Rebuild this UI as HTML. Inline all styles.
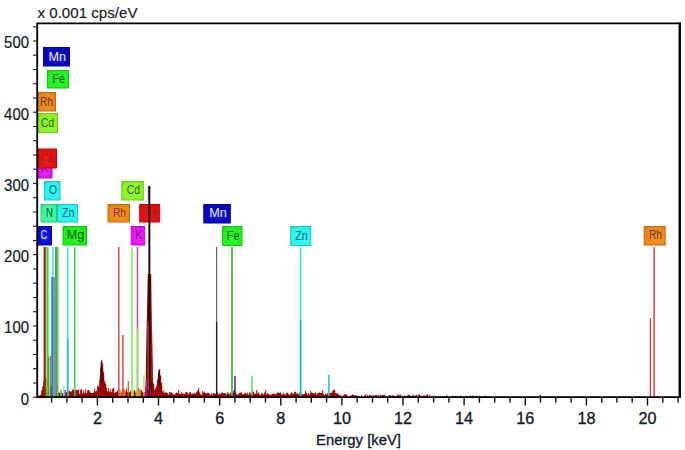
<!DOCTYPE html><html><head><meta charset="utf-8"><style>html,body{margin:0;padding:0;background:#fff;}svg{display:block;}text{font-family:"Liberation Sans",sans-serif;}</style></head><body>
<svg width="685" height="450" viewBox="0 0 685 450">
<rect width="685" height="450" fill="#fff"/>
<defs><radialGradient id="pk" cx="0.5" cy="1" r="0.6"><stop offset="0" stop-color="#ff1010"/><stop offset="0.6" stop-color="#d00000" stop-opacity="0.7"/><stop offset="1" stop-color="#a00000" stop-opacity="0"/></radialGradient><radialGradient id="glow" cx="0.55" cy="0.6" r="0.75"><stop offset="0" stop-color="#fff" stop-opacity="0.12"/><stop offset="0.6" stop-color="#fff" stop-opacity="0"/><stop offset="1" stop-color="#000" stop-opacity="0.12"/></radialGradient><clipPath id="ab"><rect x="38" y="23" width="641" height="373.5"/></clipPath></defs>
<path d="M38.2 397.2 L38.2 395.5 L39.2 395.5 L39.2 395.4 L40.2 395.4 L40.2 394.8 L41.2 394.8 L41.2 390.2 L42.2 390.2 L42.2 386.4 L43.2 386.4 L43.2 380.7 L44.2 380.7 L44.2 384.4 L45.2 384.4 L45.2 388.3 L46.2 388.3 L46.2 389.8 L47.2 389.8 L47.2 389.2 L48.2 389.2 L48.2 392.6 L49.2 392.6 L49.2 388.4 L50.2 388.4 L50.2 383.7 L51.2 383.7 L51.2 385.9 L52.2 385.9 L52.2 389.6 L53.2 389.6 L53.2 393.0 L54.2 393.0 L54.2 388.3 L55.2 388.3 L55.2 388.4 L56.2 388.4 L56.2 389.9 L57.2 389.9 L57.2 390.1 L58.2 390.1 L58.2 392.4 L59.2 392.4 L59.2 393.1 L60.2 393.1 L60.2 391.6 L61.2 391.6 L61.2 393.9 L62.2 393.9 L62.2 393.2 L63.2 393.2 L63.2 393.0 L64.2 393.0 L64.2 394.0 L65.2 394.0 L65.2 391.9 L66.2 391.9 L66.2 392.0 L67.2 392.0 L67.2 390.0 L68.2 390.0 L68.2 391.6 L69.2 391.6 L69.2 391.0 L70.2 391.0 L70.2 391.5 L71.2 391.5 L71.2 391.6 L72.2 391.6 L72.2 389.2 L73.2 389.2 L73.2 389.9 L74.2 389.9 L74.2 392.3 L75.2 392.3 L75.2 389.4 L76.2 389.4 L76.2 390.3 L77.2 390.3 L77.2 389.9 L78.2 389.9 L78.2 389.4 L79.2 389.4 L79.2 393.7 L80.2 393.7 L80.2 389.6 L81.2 389.6 L81.2 389.3 L82.2 389.3 L82.2 393.4 L83.2 393.4 L83.2 390.2 L84.2 390.2 L84.2 393.3 L85.2 393.3 L85.2 389.4 L86.2 389.4 L86.2 393.2 L87.2 393.2 L87.2 390.2 L88.2 390.2 L88.2 390.1 L89.2 390.1 L89.2 391.2 L90.2 391.2 L90.2 392.8 L91.2 392.8 L91.2 393.1 L92.2 393.1 L92.2 393.1 L93.2 393.1 L93.2 392.5 L94.2 392.5 L94.2 388.8 L95.2 388.8 L95.2 391.2 L96.2 391.2 L96.2 390.7 L97.2 390.7 L97.2 385.4 L98.2 385.4 L98.2 386.4 L99.2 386.4 L99.2 380.2 L100.2 380.2 L100.2 368.4 L101.2 368.4 L101.2 359.9 L102.2 359.9 L102.2 364.4 L103.2 364.4 L103.2 372.2 L104.2 372.2 L104.2 381.0 L105.2 381.0 L105.2 383.7 L106.2 383.7 L106.2 388.1 L107.2 388.1 L107.2 391.2 L108.2 391.2 L108.2 388.1 L109.2 388.1 L109.2 391.7 L110.2 391.7 L110.2 389.4 L111.2 389.4 L111.2 392.2 L112.2 392.2 L112.2 388.8 L113.2 388.8 L113.2 388.1 L114.2 388.1 L114.2 393.0 L115.2 393.0 L115.2 392.0 L116.2 392.0 L116.2 391.9 L117.2 391.9 L117.2 390.2 L118.2 390.2 L118.2 392.3 L119.2 392.3 L119.2 389.6 L120.2 389.6 L120.2 392.9 L121.2 392.9 L121.2 392.1 L122.2 392.1 L122.2 390.4 L123.2 390.4 L123.2 388.9 L124.2 388.9 L124.2 390.1 L125.2 390.1 L125.2 391.8 L126.2 391.8 L126.2 388.6 L127.2 388.6 L127.2 392.2 L128.2 392.2 L128.2 393.1 L129.2 393.1 L129.2 391.9 L130.2 391.9 L130.2 391.0 L131.2 391.0 L131.2 392.9 L132.2 392.9 L132.2 392.3 L133.2 392.3 L133.2 391.4 L134.2 391.4 L134.2 390.3 L135.2 390.3 L135.2 392.5 L136.2 392.5 L136.2 391.4 L137.2 391.4 L137.2 388.7 L138.2 388.7 L138.2 388.3 L139.2 388.3 L139.2 389.9 L140.2 389.9 L140.2 389.7 L141.2 389.7 L141.2 390.2 L142.2 390.2 L142.2 392.3 L143.2 392.3 L143.2 392.6 L144.2 392.6 L144.2 391.9 L145.2 391.9 L145.2 386.1 L146.2 386.1 L146.2 384.1 L147.2 384.1 L147.2 369.8 L148.2 369.8 L148.2 328.2 L149.2 328.2 L149.2 278.7 L150.2 278.7 L150.2 312.4 L151.2 312.4 L151.2 363.3 L152.2 363.3 L152.2 383.0 L153.2 383.0 L153.2 383.5 L154.2 383.5 L154.2 389.7 L155.2 389.7 L155.2 387.7 L156.2 387.7 L156.2 385.2 L157.2 385.2 L157.2 379.3 L158.2 379.3 L158.2 371.8 L159.2 371.8 L159.2 369.0 L160.2 369.0 L160.2 375.4 L161.2 375.4 L161.2 382.7 L162.2 382.7 L162.2 391.5 L163.2 391.5 L163.2 391.1 L164.2 391.1 L164.2 393.1 L165.2 393.1 L165.2 392.0 L166.2 392.0 L166.2 392.8 L167.2 392.8 L167.2 392.9 L168.2 392.9 L168.2 394.5 L169.2 394.5 L169.2 391.7 L170.2 391.7 L170.2 392.5 L171.2 392.5 L171.2 392.5 L172.2 392.5 L172.2 393.4 L173.2 393.4 L173.2 394.4 L174.2 394.4 L174.2 394.6 L175.2 394.6 L175.2 393.3 L176.2 393.3 L176.2 392.6 L177.2 392.6 L177.2 392.9 L178.2 392.9 L178.2 389.9 L179.2 389.9 L179.2 393.8 L180.2 393.8 L180.2 394.1 L181.2 394.1 L181.2 392.0 L182.2 392.0 L182.2 393.4 L183.2 393.4 L183.2 393.7 L184.2 393.7 L184.2 394.1 L185.2 394.1 L185.2 392.3 L186.2 392.3 L186.2 392.1 L187.2 392.1 L187.2 393.0 L188.2 393.0 L188.2 394.3 L189.2 394.3 L189.2 392.2 L190.2 392.2 L190.2 392.6 L191.2 392.6 L191.2 393.9 L192.2 393.9 L192.2 393.3 L193.2 393.3 L193.2 394.1 L194.2 394.1 L194.2 392.8 L195.2 392.8 L195.2 393.8 L196.2 393.8 L196.2 391.8 L197.2 391.8 L197.2 390.5 L198.2 390.5 L198.2 388.1 L199.2 388.1 L199.2 392.6 L200.2 392.6 L200.2 394.3 L201.2 394.3 L201.2 395.1 L202.2 395.1 L202.2 390.8 L203.2 390.8 L203.2 392.7 L204.2 392.7 L204.2 391.8 L205.2 391.8 L205.2 393.3 L206.2 393.3 L206.2 393.3 L207.2 393.3 L207.2 392.8 L208.2 392.8 L208.2 393.1 L209.2 393.1 L209.2 393.8 L210.2 393.8 L210.2 395.2 L211.2 395.2 L211.2 393.1 L212.2 393.1 L212.2 394.4 L213.2 394.4 L213.2 393.1 L214.2 393.1 L214.2 393.4 L215.2 393.4 L215.2 394.0 L216.2 394.0 L216.2 392.5 L217.2 392.5 L217.2 392.4 L218.2 392.4 L218.2 394.8 L219.2 394.8 L219.2 393.3 L220.2 393.3 L220.2 394.1 L221.2 394.1 L221.2 392.6 L222.2 392.6 L222.2 392.4 L223.2 392.4 L223.2 393.2 L224.2 393.2 L224.2 393.0 L225.2 393.0 L225.2 393.3 L226.2 393.3 L226.2 394.6 L227.2 394.6 L227.2 392.3 L228.2 392.3 L228.2 393.6 L229.2 393.6 L229.2 394.2 L230.2 394.2 L230.2 392.6 L231.2 392.6 L231.2 395.0 L232.2 395.0 L232.2 393.5 L233.2 393.5 L233.2 390.7 L234.2 390.7 L234.2 389.8 L235.2 389.8 L235.2 392.8 L236.2 392.8 L236.2 394.2 L237.2 394.2 L237.2 394.8 L238.2 394.8 L238.2 393.7 L239.2 393.7 L239.2 392.7 L240.2 392.7 L240.2 392.4 L241.2 392.4 L241.2 392.4 L242.2 392.4 L242.2 394.5 L243.2 394.5 L243.2 394.3 L244.2 394.3 L244.2 393.3 L245.2 393.3 L245.2 392.7 L246.2 392.7 L246.2 394.3 L247.2 394.3 L247.2 392.7 L248.2 392.7 L248.2 394.6 L249.2 394.6 L249.2 392.3 L250.2 392.3 L250.2 393.5 L251.2 393.5 L251.2 393.6 L252.2 393.6 L252.2 390.4 L253.2 390.4 L253.2 392.3 L254.2 392.3 L254.2 394.0 L255.2 394.0 L255.2 393.5 L256.2 393.5 L256.2 390.1 L257.2 390.1 L257.2 393.6 L258.2 393.6 L258.2 392.3 L259.2 392.3 L259.2 394.4 L260.2 394.4 L260.2 394.8 L261.2 394.8 L261.2 392.8 L262.2 392.8 L262.2 393.8 L263.2 393.8 L263.2 394.6 L264.2 394.6 L264.2 392.4 L265.2 392.4 L265.2 389.9 L266.2 389.9 L266.2 394.6 L267.2 394.6 L267.2 393.1 L268.2 393.1 L268.2 394.1 L269.2 394.1 L269.2 394.9 L270.2 394.9 L270.2 394.8 L271.2 394.8 L271.2 394.4 L272.2 394.4 L272.2 393.6 L273.2 393.6 L273.2 394.1 L274.2 394.1 L274.2 393.6 L275.2 393.6 L275.2 394.6 L276.2 394.6 L276.2 393.3 L277.2 393.3 L277.2 392.6 L278.2 392.6 L278.2 392.6 L279.2 392.6 L279.2 393.0 L280.2 393.0 L280.2 392.5 L281.2 392.5 L281.2 394.3 L282.2 394.3 L282.2 394.5 L283.2 394.5 L283.2 392.5 L284.2 392.5 L284.2 394.5 L285.2 394.5 L285.2 394.4 L286.2 394.4 L286.2 392.7 L287.2 392.7 L287.2 392.8 L288.2 392.8 L288.2 394.0 L289.2 394.0 L289.2 395.1 L290.2 395.1 L290.2 393.2 L291.2 393.2 L291.2 392.3 L292.2 392.3 L292.2 393.7 L293.2 393.7 L293.2 393.7 L294.2 393.7 L294.2 391.6 L295.2 391.6 L295.2 391.9 L296.2 391.9 L296.2 393.5 L297.2 393.5 L297.2 393.5 L298.2 393.5 L298.2 394.6 L299.2 394.6 L299.2 392.7 L300.2 392.7 L300.2 392.4 L301.2 392.4 L301.2 395.0 L302.2 395.0 L302.2 393.8 L303.2 393.8 L303.2 394.2 L304.2 394.2 L304.2 393.7 L305.2 393.7 L305.2 390.4 L306.2 390.4 L306.2 393.1 L307.2 393.1 L307.2 394.7 L308.2 394.7 L308.2 393.0 L309.2 393.0 L309.2 394.6 L310.2 394.6 L310.2 390.7 L311.2 390.7 L311.2 392.5 L312.2 392.5 L312.2 393.1 L313.2 393.1 L313.2 393.3 L314.2 393.3 L314.2 393.4 L315.2 393.4 L315.2 392.3 L316.2 392.3 L316.2 394.4 L317.2 394.4 L317.2 393.0 L318.2 393.0 L318.2 392.8 L319.2 392.8 L319.2 392.5 L320.2 392.5 L320.2 393.1 L321.2 393.1 L321.2 392.9 L322.2 392.9 L322.2 390.0 L323.2 390.0 L323.2 394.2 L324.2 394.2 L324.2 395.2 L325.2 395.2 L325.2 393.3 L326.2 393.3 L326.2 394.5 L327.2 394.5 L327.2 393.2 L328.2 393.2 L328.2 393.2 L329.2 393.2 L329.2 393.5 L330.2 393.5 L330.2 392.8 L331.2 392.8 L331.2 392.7 L332.2 392.7 L332.2 391.0 L333.2 391.0 L333.2 389.8 L334.2 389.8 L334.2 389.7 L335.2 389.7 L335.2 393.0 L336.2 393.0 L336.2 393.2 L337.2 393.2 L337.2 393.5 L338.2 393.5 L338.2 394.7 L339.2 394.7 L339.2 394.4 L340.2 394.4 L340.2 396.3 L341.2 396.3 L341.2 395.6 L342.2 395.6 L342.2 397.2 L343.2 397.2 L343.2 395.2 L344.2 395.2 L344.2 394.3 L345.2 394.3 L345.2 394.2 L346.2 394.2 L346.2 394.6 L347.2 394.6 L347.2 397.2 L348.2 397.2 L348.2 397.2 L349.2 397.2 L349.2 396.0 L350.2 396.0 L350.2 396.0 L351.2 396.0 L351.2 395.1 L352.2 395.1 L352.2 394.3 L353.2 394.3 L353.2 395.2 L354.2 395.2 L354.2 395.6 L355.2 395.6 L355.2 395.0 L356.2 395.0 L356.2 395.8 L357.2 395.8 L357.2 395.7 L358.2 395.7 L358.2 395.9 L359.2 395.9 L359.2 397.2 L360.2 397.2 L360.2 397.2 L361.2 397.2 L361.2 394.8 L362.2 394.8 L362.2 397.2 L363.2 397.2 L363.2 397.2 L364.2 397.2 L364.2 395.5 L365.2 395.5 L365.2 394.3 L366.2 394.3 L366.2 397.2 L367.2 397.2 L367.2 394.8 L368.2 394.8 L368.2 397.2 L369.2 397.2 L369.2 395.1 L370.2 395.1 L370.2 395.0 L371.2 395.0 L371.2 396.0 L372.2 396.0 L372.2 395.2 L373.2 395.2 L373.2 395.4 L374.2 395.4 L374.2 395.4 L375.2 395.4 L375.2 395.1 L376.2 395.1 L376.2 394.7 L377.2 394.7 L377.2 397.2 L378.2 397.2 L378.2 394.8 L379.2 394.8 L379.2 397.2 L380.2 397.2 L380.2 394.7 L381.2 394.7 L381.2 395.6 L382.2 395.6 L382.2 394.9 L383.2 394.9 L383.2 395.1 L384.2 395.1 L384.2 394.7 L385.2 394.7 L385.2 397.2 L386.2 397.2 L386.2 397.2 L387.2 397.2 L387.2 396.3 L388.2 396.3 L388.2 395.8 L389.2 395.8 L389.2 395.0 L390.2 395.0 L390.2 395.2 L391.2 395.2 L391.2 396.2 L392.2 396.2 L392.2 395.2 L393.2 395.2 L393.2 395.6 L394.2 395.6 L394.2 395.9 L395.2 395.9 L395.2 397.2 L396.2 397.2 L396.2 396.2 L397.2 396.2 L397.2 394.6 L398.2 394.6 L398.2 394.7 L399.2 394.7 L399.2 395.5 L400.2 395.5 L400.2 394.6 L401.2 394.6 L401.2 397.2 L402.2 397.2 L402.2 395.7 L403.2 395.7 L403.2 397.2 L404.2 397.2 L404.2 395.5 L405.2 395.5 L405.2 397.2 L406.2 397.2 L406.2 396.2 L407.2 396.2 L407.2 395.2 L408.2 395.2 L408.2 394.9 L409.2 394.9 L409.2 394.7 L410.2 394.7 L410.2 395.9 L411.2 395.9 L411.2 396.2 L412.2 396.2 L412.2 394.8 L413.2 394.8 L413.2 395.8 L414.2 395.8 L414.2 395.6 L415.2 395.6 L415.2 395.6 L416.2 395.6 L416.2 394.8 L417.2 394.8 L417.2 397.2 L418.2 397.2 L418.2 394.4 L419.2 394.4 L419.2 394.6 L420.2 394.6 L420.2 395.7 L421.2 395.7 L421.2 397.2 L422.2 397.2 L422.2 395.9 L423.2 395.9 L423.2 395.6 L424.2 395.6 L424.2 395.5 L425.2 395.5 L425.2 396.0 L426.2 396.0 L426.2 394.6 L427.2 394.6 L427.2 394.6 L428.2 394.6 L428.2 397.2 L429.2 397.2 L429.2 394.5 L430.2 394.5 L430.2 396.7 L431.2 396.7 L431.2 395.9 L432.2 395.9 L432.2 397.2 L433.2 397.2 L433.2 395.5 L434.2 395.5 L434.2 397.2 L435.2 397.2 L435.2 396.6 L436.2 396.6 L436.2 397.2 L437.2 397.2 L437.2 397.2 L438.2 397.2 L438.2 397.2 L439.2 397.2 L439.2 395.7 L440.2 395.7 L440.2 397.2 L441.2 397.2 L441.2 397.2 L442.2 397.2 L442.2 396.1 L443.2 396.1 L443.2 397.2 L444.2 397.2 L444.2 396.0 L445.2 396.0 L445.2 397.2 L446.2 397.2 L446.2 395.3 L447.2 395.3 L447.2 397.2 L448.2 397.2 L448.2 397.2 L449.2 397.2 L449.2 397.2 L450.2 397.2 L450.2 397.2 L451.2 397.2 L451.2 397.2 L452.2 397.2 L452.2 395.5 L453.2 395.5 L453.2 396.1 L454.2 396.1 L454.2 397.2 L455.2 397.2 L455.2 396.1 L456.2 396.1 L456.2 396.4 L457.2 396.4 L457.2 397.2 L458.2 397.2 L458.2 396.6 L459.2 396.6 L459.2 397.2 L460.2 397.2 L460.2 395.5 L461.2 395.5 L461.2 396.6 L462.2 396.6 L462.2 397.2 L463.2 397.2 L463.2 396.6 L464.2 396.6 L464.2 396.4 L465.2 396.4 L465.2 397.2 L466.2 397.2 L466.2 395.8 L467.2 395.8 L467.2 396.4 L468.2 396.4 L468.2 397.2 L469.2 397.2 L469.2 396.2 L470.2 396.2 L470.2 395.5 L471.2 395.5 L471.2 397.2 L472.2 397.2 L472.2 395.3 L473.2 395.3 L473.2 397.2 L474.2 397.2 L474.2 396.0 L475.2 396.0 L475.2 397.2 L476.2 397.2 L476.2 395.5 L477.2 395.5 L477.2 395.9 L478.2 395.9 L478.2 397.2 L479.2 397.2 L479.2 395.7 L480.2 395.7 L480.2 396.7 L481.2 396.7 L481.2 397.2 L482.2 397.2 L482.2 397.2 L483.2 397.2 L483.2 396.5 L484.2 396.5 L484.2 396.2 L485.2 396.2 L485.2 395.4 L486.2 395.4 L486.2 397.2 Z" fill="#9c0000"/>
<path d="M100.6 362 L102.6 362 L104 382 L99.5 382 Z" fill="#4a0000" opacity="0.7"/>
<path d="M158.3 370 L159.7 370 L160.5 385 L157.5 385 Z" fill="#300000" opacity="0.7"/>
<g clip-path="url(#ab)"><ellipse cx="101.6" cy="397" rx="6" ry="10" fill="url(#pk)"/><ellipse cx="149.5" cy="397" rx="5" ry="8" fill="url(#pk)"/><ellipse cx="159" cy="397" rx="4" ry="6" fill="url(#pk)"/></g>
<rect x="539.5" y="395" width="1.5" height="2" fill="#b00000"/>
<path d="M147.8 274 L151.2 274 L151.8 330 L152.6 360 L153 392 L145.6 392 L146 360 L146.6 330 Z" fill="#800000"/>
<rect x="151.1" y="332" width="1.2" height="50" fill="#b01818" opacity="0.8"/>
<rect x="44.5" y="378" width="2.5" height="18.5" fill="#f07010" opacity="0.85"/>
<rect x="119" y="390" width="2.5" height="6.5" fill="#f0a030" opacity="0.85"/>
<rect x="122" y="390" width="3.5" height="6.5" fill="#e09020" opacity="0.85"/>
<rect x="131" y="390" width="3" height="6.5" fill="#e8c020" opacity="0.85"/>
<rect x="135.5" y="390" width="5.5" height="6.5" fill="#f0a020" opacity="0.85"/>
<rect x="60" y="390" width="2" height="6.5" fill="#70c040" opacity="0.85"/>
<rect x="64" y="390" width="2" height="6.5" fill="#a04080" opacity="0.85"/>
<rect x="148.6" y="389" width="1.6" height="7" fill="#fff0c0"/>
<rect x="43.60" y="247" width="2.2" height="150.2" fill="#8c2a14"/>
<rect x="46.40" y="247" width="2.2" height="150.2" fill="#40d840"/>
<rect x="47.80" y="357" width="1.2" height="40.2" fill="#30b030"/>
<rect x="49.20" y="290" width="1.2" height="107.2" fill="#d8f8d8"/>
<rect x="49.65" y="356" width="1.3" height="41.2" fill="#d05050"/>
<rect x="51.90" y="247" width="2" height="150.2" fill="#60e8f0"/>
<rect x="51.30" y="277" width="2.2" height="120.2" fill="#208898"/>
<rect x="55.10" y="247" width="1.8" height="150.2" fill="#6a7458"/>
<rect x="54.00" y="277" width="2" height="120.2" fill="#8888c0"/>
<rect x="56.80" y="247" width="1.8" height="150.2" fill="#50d850"/>
<rect x="63.15" y="386" width="1.3" height="11.2" fill="#80e8f0"/>
<rect x="66.90" y="247" width="1.6" height="150.2" fill="#50dde8"/>
<rect x="66.90" y="338" width="1.6" height="59.2" fill="#28b8c8"/>
<rect x="74.05" y="247" width="1.5" height="150.2" fill="#48d048"/>
<rect x="118.05" y="247" width="1.5" height="150.2" fill="#d05050"/>
<rect x="122.15" y="335" width="1.5" height="62.2" fill="#d05050"/>
<rect x="127.70" y="381" width="1.2" height="16.2" fill="#d05050"/>
<rect x="131.35" y="247" width="1.5" height="150.2" fill="#80e850"/>
<rect x="136.75" y="247" width="1.5" height="150.2" fill="#c050c8"/>
<rect x="136.75" y="329" width="1.5" height="68.2" fill="#80e850"/>
<rect x="143.40" y="375" width="1.2" height="22.2" fill="#a0e850"/>
<rect x="145.70" y="379" width="1.2" height="18.2" fill="#c020c0"/>
<rect x="216.00" y="247" width="1.2" height="150.2" fill="#686868"/>
<rect x="215.95" y="322" width="1.3" height="75.2" fill="#202020"/>
<rect x="231.20" y="247" width="1.6" height="150.2" fill="#28b828"/>
<rect x="234.30" y="376" width="1.4" height="21.2" fill="#282878"/>
<rect x="251.35" y="376" width="1.3" height="21.2" fill="#50d050"/>
<rect x="299.80" y="247" width="1.6" height="150.2" fill="#50e0e8"/>
<rect x="299.80" y="320" width="1.6" height="77.2" fill="#20b8c8"/>
<rect x="328.10" y="375" width="1.6" height="22.2" fill="#30c0d0"/>
<rect x="649.75" y="318" width="1.3" height="79.2" fill="#d04848"/>
<rect x="653.35" y="247" width="1.5" height="150.2" fill="#d04848"/>
<rect x="43.5" y="47.5" width="26.0" height="18.5" fill="#0404c0" stroke="#030399" stroke-width="1"/>
<rect x="44.0" y="48.0" width="25.0" height="17.5" fill="url(#glow)"/>
<text x="57.3" y="60.5" font-size="12.5" fill="#eef" text-anchor="middle" textLength="17.5" lengthAdjust="spacingAndGlyphs">Mn</text>
<rect x="47.5" y="70.5" width="21.0" height="17.5" fill="#1cf41c" stroke="#16c316" stroke-width="1"/>
<rect x="48.0" y="71.0" width="20.0" height="16.5" fill="url(#glow)"/>
<text x="58.8" y="83.0" font-size="12.5" fill="#062a06" text-anchor="middle" textLength="12.5" lengthAdjust="spacingAndGlyphs" opacity="0.8">Fe</text>
<rect x="38.5" y="92.5" width="17.0" height="18.5" fill="#f28614" stroke="#c16b10" stroke-width="1"/>
<rect x="39.0" y="93.0" width="16.0" height="17.5" fill="url(#glow)"/>
<text x="46.4" y="105.5" font-size="12.5" fill="#4a2800" text-anchor="middle" textLength="13" lengthAdjust="spacingAndGlyphs" opacity="0.8">Rh</text>
<rect x="38.5" y="113.5" width="19.0" height="19.0" fill="#88f820" stroke="#6cc619" stroke-width="1"/>
<rect x="39.0" y="114.0" width="18.0" height="18.0" fill="url(#glow)"/>
<text x="47.4" y="126.7" font-size="12.5" fill="#1e3800" text-anchor="middle" textLength="13.5" lengthAdjust="spacingAndGlyphs" opacity="0.8">Cd</text>
<rect x="38.5" y="158.5" width="13.5" height="19.5" fill="#ec10f4" stroke="#bc0cc3" stroke-width="1"/>
<rect x="39.0" y="159.0" width="12.5" height="18.5" fill="url(#glow)"/>
<text x="44.6" y="171.9" font-size="12.5" fill="#600070" text-anchor="middle" textLength="7" lengthAdjust="spacingAndGlyphs" opacity="0.8">K</text>
<rect x="38.5" y="149.0" width="18.0" height="19.0" fill="#e40c0c" stroke="#b60909" stroke-width="1"/>
<rect x="39.0" y="149.5" width="17.0" height="18.0" fill="url(#glow)"/>
<text x="46.9" y="162.2" font-size="12.5" fill="#ff5060" text-anchor="middle" textLength="13.5" lengthAdjust="spacingAndGlyphs" opacity="0.75" stroke="#9a0000" stroke-width="0.6">Ca</text>
<rect x="44.5" y="181.5" width="15.5" height="18.5" fill="#24f8f4" stroke="#1cc6c3" stroke-width="1"/>
<rect x="45.0" y="182.0" width="14.5" height="17.5" fill="url(#glow)"/>
<text x="53.0" y="194.4" font-size="12.5" fill="#004040" text-anchor="middle" textLength="8" lengthAdjust="spacingAndGlyphs" opacity="0.8">O</text>
<rect x="41.0" y="204.5" width="15.5" height="17.5" fill="#38f89c" stroke="#2cc67c" stroke-width="1"/>
<rect x="41.5" y="205.0" width="14.5" height="16.5" fill="url(#glow)"/>
<text x="49.5" y="216.9" font-size="12.5" fill="#002a10" text-anchor="middle" textLength="7" lengthAdjust="spacingAndGlyphs" opacity="0.8">N</text>
<rect x="57.5" y="204.5" width="20.0" height="17.5" fill="#24f8f4" stroke="#1cc6c3" stroke-width="1"/>
<rect x="58.0" y="205.0" width="19.0" height="16.5" fill="url(#glow)"/>
<text x="68.3" y="216.9" font-size="12.5" fill="#004040" text-anchor="middle" textLength="12.5" lengthAdjust="spacingAndGlyphs" opacity="0.8">Zn</text>
<rect x="37.5" y="226.5" width="14.0" height="18.5" fill="#0606d8" stroke="#0404ac" stroke-width="1"/>
<rect x="38.0" y="227.0" width="13.0" height="17.5" fill="url(#glow)"/>
<text x="43.9" y="239.4" font-size="12.5" fill="#eef" text-anchor="middle" textLength="6.8" lengthAdjust="spacingAndGlyphs">C</text>
<rect x="63.0" y="226.5" width="23.5" height="18.5" fill="#18f218" stroke="#13c113" stroke-width="1"/>
<rect x="63.5" y="227.0" width="22.5" height="17.5" fill="url(#glow)"/>
<text x="75.5" y="239.4" font-size="12.5" fill="#062a06" text-anchor="middle" textLength="17.5" lengthAdjust="spacingAndGlyphs" opacity="0.8">Mg</text>
<rect x="121.8" y="181.5" width="21.5" height="18.5" fill="#88f820" stroke="#6cc619" stroke-width="1"/>
<rect x="122.3" y="182.0" width="20.5" height="17.5" fill="url(#glow)"/>
<text x="133.4" y="194.4" font-size="12.5" fill="#1e3800" text-anchor="middle" textLength="13.5" lengthAdjust="spacingAndGlyphs" opacity="0.8">Cd</text>
<rect x="108.0" y="204.5" width="21.5" height="17.5" fill="#f28614" stroke="#c16b10" stroke-width="1"/>
<rect x="108.5" y="205.0" width="20.5" height="16.5" fill="url(#glow)"/>
<text x="119.5" y="216.9" font-size="12.5" fill="#4a2800" text-anchor="middle" textLength="13" lengthAdjust="spacingAndGlyphs" opacity="0.8">Rh</text>
<rect x="139.7" y="204.5" width="20.0" height="17.5" fill="#e40c0c" stroke="#b60909" stroke-width="1"/>
<rect x="140.2" y="205.0" width="19.0" height="16.5" fill="url(#glow)"/>
<text x="150.5" y="216.9" font-size="12.5" fill="#ff5060" text-anchor="middle" textLength="13.5" lengthAdjust="spacingAndGlyphs" opacity="0.75" stroke="#9a0000" stroke-width="0.6">Ca</text>
<rect x="131.2" y="226.5" width="13.5" height="18.5" fill="#ec10f4" stroke="#bc0cc3" stroke-width="1"/>
<rect x="131.7" y="227.0" width="12.5" height="17.5" fill="url(#glow)"/>
<text x="138.8" y="239.4" font-size="12.5" fill="#600070" text-anchor="middle" textLength="7" lengthAdjust="spacingAndGlyphs" opacity="0.8">K</text>
<rect x="203.8" y="204.5" width="26.5" height="18.5" fill="#0404c0" stroke="#030399" stroke-width="1"/>
<rect x="204.3" y="205.0" width="25.5" height="17.5" fill="url(#glow)"/>
<text x="217.9" y="217.4" font-size="12.5" fill="#eef" text-anchor="middle" textLength="17.5" lengthAdjust="spacingAndGlyphs">Mn</text>
<rect x="222.5" y="226.5" width="19.5" height="19.0" fill="#1cf41c" stroke="#16c316" stroke-width="1"/>
<rect x="223.0" y="227.0" width="18.5" height="18.0" fill="url(#glow)"/>
<text x="233.1" y="239.7" font-size="12.5" fill="#062a06" text-anchor="middle" textLength="12.5" lengthAdjust="spacingAndGlyphs" opacity="0.8">Fe</text>
<rect x="290.7" y="226.5" width="20.0" height="19.0" fill="#24f8f4" stroke="#1cc6c3" stroke-width="1"/>
<rect x="291.2" y="227.0" width="19.0" height="18.0" fill="url(#glow)"/>
<text x="301.5" y="239.7" font-size="12.5" fill="#004040" text-anchor="middle" textLength="12.5" lengthAdjust="spacingAndGlyphs" opacity="0.8">Zn</text>
<rect x="644.2" y="226.5" width="21.0" height="18.5" fill="#f28614" stroke="#c16b10" stroke-width="1"/>
<rect x="644.7" y="227.0" width="20.0" height="17.5" fill="url(#glow)"/>
<text x="655.5" y="239.4" font-size="12.5" fill="#4a2800" text-anchor="middle" textLength="13" lengthAdjust="spacingAndGlyphs" opacity="0.8">Rh</text>
<rect x="148.4" y="186" width="1.9" height="211.2" fill="#1a0000"/>
<rect x="147.6" y="322" width="1.1" height="68" fill="#c04848"/>
<rect x="147.8" y="186" width="0.8" height="14" fill="#303060"/>
<path d="M37.2 23.3 V397.2 H679.8 V23.3 Z" fill="none" stroke="#000" stroke-width="1.8"/>
<line x1="679.8" y1="22.4" x2="679.8" y2="398" stroke="#000" stroke-width="2.3"/>
<line x1="33" y1="397.2" x2="37.2" y2="397.2" stroke="#222" stroke-width="1.15"/>
<line x1="33" y1="383.0" x2="37.2" y2="383.0" stroke="#222" stroke-width="1.15"/>
<line x1="33" y1="368.7" x2="37.2" y2="368.7" stroke="#222" stroke-width="1.15"/>
<line x1="33" y1="354.5" x2="37.2" y2="354.5" stroke="#222" stroke-width="1.15"/>
<line x1="33" y1="340.2" x2="37.2" y2="340.2" stroke="#222" stroke-width="1.15"/>
<line x1="33" y1="326.0" x2="37.2" y2="326.0" stroke="#222" stroke-width="1.15"/>
<line x1="33" y1="311.7" x2="37.2" y2="311.7" stroke="#222" stroke-width="1.15"/>
<line x1="33" y1="297.5" x2="37.2" y2="297.5" stroke="#222" stroke-width="1.15"/>
<line x1="33" y1="283.2" x2="37.2" y2="283.2" stroke="#222" stroke-width="1.15"/>
<line x1="33" y1="269.0" x2="37.2" y2="269.0" stroke="#222" stroke-width="1.15"/>
<line x1="33" y1="254.7" x2="37.2" y2="254.7" stroke="#222" stroke-width="1.15"/>
<line x1="33" y1="240.5" x2="37.2" y2="240.5" stroke="#222" stroke-width="1.15"/>
<line x1="33" y1="226.2" x2="37.2" y2="226.2" stroke="#222" stroke-width="1.15"/>
<line x1="33" y1="212.0" x2="37.2" y2="212.0" stroke="#222" stroke-width="1.15"/>
<line x1="33" y1="197.7" x2="37.2" y2="197.7" stroke="#222" stroke-width="1.15"/>
<line x1="33" y1="183.5" x2="37.2" y2="183.5" stroke="#222" stroke-width="1.15"/>
<line x1="33" y1="169.2" x2="37.2" y2="169.2" stroke="#222" stroke-width="1.15"/>
<line x1="33" y1="155.0" x2="37.2" y2="155.0" stroke="#222" stroke-width="1.15"/>
<line x1="33" y1="140.7" x2="37.2" y2="140.7" stroke="#222" stroke-width="1.15"/>
<line x1="33" y1="126.5" x2="37.2" y2="126.5" stroke="#222" stroke-width="1.15"/>
<line x1="33" y1="112.2" x2="37.2" y2="112.2" stroke="#222" stroke-width="1.15"/>
<line x1="33" y1="98.0" x2="37.2" y2="98.0" stroke="#222" stroke-width="1.15"/>
<line x1="33" y1="83.7" x2="37.2" y2="83.7" stroke="#222" stroke-width="1.15"/>
<line x1="33" y1="69.5" x2="37.2" y2="69.5" stroke="#222" stroke-width="1.15"/>
<line x1="33" y1="55.2" x2="37.2" y2="55.2" stroke="#222" stroke-width="1.15"/>
<line x1="33" y1="41.0" x2="37.2" y2="41.0" stroke="#222" stroke-width="1.15"/>
<line x1="33" y1="26.8" x2="37.2" y2="26.8" stroke="#222" stroke-width="1.15"/>
<text x="29" y="404.5" font-size="16.5" fill="#101828" stroke="#101828" stroke-width="0.2" text-anchor="end" textLength="8.3" lengthAdjust="spacingAndGlyphs">0</text>
<text x="29" y="333.3" font-size="16.5" fill="#101828" stroke="#101828" stroke-width="0.2" text-anchor="end" textLength="24.9" lengthAdjust="spacingAndGlyphs">100</text>
<text x="29" y="262.0" font-size="16.5" fill="#101828" stroke="#101828" stroke-width="0.2" text-anchor="end" textLength="24.9" lengthAdjust="spacingAndGlyphs">200</text>
<text x="29" y="190.8" font-size="16.5" fill="#101828" stroke="#101828" stroke-width="0.2" text-anchor="end" textLength="24.9" lengthAdjust="spacingAndGlyphs">300</text>
<text x="29" y="119.5" font-size="16.5" fill="#101828" stroke="#101828" stroke-width="0.2" text-anchor="end" textLength="24.9" lengthAdjust="spacingAndGlyphs">400</text>
<text x="29" y="48.3" font-size="16.5" fill="#101828" stroke="#101828" stroke-width="0.2" text-anchor="end" textLength="24.9" lengthAdjust="spacingAndGlyphs">500</text>
<line x1="51.6" y1="397.2" x2="51.6" y2="402.7" stroke="#111" stroke-width="1.4"/>
<line x1="66.9" y1="397.2" x2="66.9" y2="402.7" stroke="#111" stroke-width="1.4"/>
<line x1="82.1" y1="397.2" x2="82.1" y2="402.7" stroke="#111" stroke-width="1.4"/>
<line x1="97.4" y1="397.2" x2="97.4" y2="405.5" stroke="#111" stroke-width="1.4"/>
<line x1="112.7" y1="397.2" x2="112.7" y2="402.7" stroke="#111" stroke-width="1.4"/>
<line x1="128.0" y1="397.2" x2="128.0" y2="402.7" stroke="#111" stroke-width="1.4"/>
<line x1="143.3" y1="397.2" x2="143.3" y2="402.7" stroke="#111" stroke-width="1.4"/>
<line x1="158.5" y1="397.2" x2="158.5" y2="405.5" stroke="#111" stroke-width="1.4"/>
<line x1="173.8" y1="397.2" x2="173.8" y2="402.7" stroke="#111" stroke-width="1.4"/>
<line x1="189.1" y1="397.2" x2="189.1" y2="402.7" stroke="#111" stroke-width="1.4"/>
<line x1="204.4" y1="397.2" x2="204.4" y2="402.7" stroke="#111" stroke-width="1.4"/>
<line x1="219.7" y1="397.2" x2="219.7" y2="405.5" stroke="#111" stroke-width="1.4"/>
<line x1="234.9" y1="397.2" x2="234.9" y2="402.7" stroke="#111" stroke-width="1.4"/>
<line x1="250.2" y1="397.2" x2="250.2" y2="402.7" stroke="#111" stroke-width="1.4"/>
<line x1="265.5" y1="397.2" x2="265.5" y2="402.7" stroke="#111" stroke-width="1.4"/>
<line x1="280.8" y1="397.2" x2="280.8" y2="405.5" stroke="#111" stroke-width="1.4"/>
<line x1="296.1" y1="397.2" x2="296.1" y2="402.7" stroke="#111" stroke-width="1.4"/>
<line x1="311.3" y1="397.2" x2="311.3" y2="402.7" stroke="#111" stroke-width="1.4"/>
<line x1="326.6" y1="397.2" x2="326.6" y2="402.7" stroke="#111" stroke-width="1.4"/>
<line x1="341.9" y1="397.2" x2="341.9" y2="405.5" stroke="#111" stroke-width="1.4"/>
<line x1="357.2" y1="397.2" x2="357.2" y2="402.7" stroke="#111" stroke-width="1.4"/>
<line x1="372.5" y1="397.2" x2="372.5" y2="402.7" stroke="#111" stroke-width="1.4"/>
<line x1="387.7" y1="397.2" x2="387.7" y2="402.7" stroke="#111" stroke-width="1.4"/>
<line x1="403.0" y1="397.2" x2="403.0" y2="405.5" stroke="#111" stroke-width="1.4"/>
<line x1="418.3" y1="397.2" x2="418.3" y2="402.7" stroke="#111" stroke-width="1.4"/>
<line x1="433.6" y1="397.2" x2="433.6" y2="402.7" stroke="#111" stroke-width="1.4"/>
<line x1="448.9" y1="397.2" x2="448.9" y2="402.7" stroke="#111" stroke-width="1.4"/>
<line x1="464.1" y1="397.2" x2="464.1" y2="405.5" stroke="#111" stroke-width="1.4"/>
<line x1="479.4" y1="397.2" x2="479.4" y2="402.7" stroke="#111" stroke-width="1.4"/>
<line x1="494.7" y1="397.2" x2="494.7" y2="402.7" stroke="#111" stroke-width="1.4"/>
<line x1="510.0" y1="397.2" x2="510.0" y2="402.7" stroke="#111" stroke-width="1.4"/>
<line x1="525.3" y1="397.2" x2="525.3" y2="405.5" stroke="#111" stroke-width="1.4"/>
<line x1="540.5" y1="397.2" x2="540.5" y2="402.7" stroke="#111" stroke-width="1.4"/>
<line x1="555.8" y1="397.2" x2="555.8" y2="402.7" stroke="#111" stroke-width="1.4"/>
<line x1="571.1" y1="397.2" x2="571.1" y2="402.7" stroke="#111" stroke-width="1.4"/>
<line x1="586.4" y1="397.2" x2="586.4" y2="405.5" stroke="#111" stroke-width="1.4"/>
<line x1="601.7" y1="397.2" x2="601.7" y2="402.7" stroke="#111" stroke-width="1.4"/>
<line x1="616.9" y1="397.2" x2="616.9" y2="402.7" stroke="#111" stroke-width="1.4"/>
<line x1="632.2" y1="397.2" x2="632.2" y2="402.7" stroke="#111" stroke-width="1.4"/>
<line x1="647.5" y1="397.2" x2="647.5" y2="405.5" stroke="#111" stroke-width="1.4"/>
<line x1="662.8" y1="397.2" x2="662.8" y2="402.7" stroke="#111" stroke-width="1.4"/>
<line x1="678.1" y1="397.2" x2="678.1" y2="402.7" stroke="#111" stroke-width="1.4"/>
<text x="97.4" y="423.7" font-size="16.2" fill="#101828" stroke="#101828" stroke-width="0.3" text-anchor="middle">2</text>
<text x="158.5" y="423.7" font-size="16.2" fill="#101828" stroke="#101828" stroke-width="0.3" text-anchor="middle">4</text>
<text x="219.7" y="423.7" font-size="16.2" fill="#101828" stroke="#101828" stroke-width="0.3" text-anchor="middle">6</text>
<text x="280.8" y="423.7" font-size="16.2" fill="#101828" stroke="#101828" stroke-width="0.3" text-anchor="middle">8</text>
<text x="341.9" y="423.7" font-size="16.2" fill="#101828" stroke="#101828" stroke-width="0.3" text-anchor="middle">10</text>
<text x="403.0" y="423.7" font-size="16.2" fill="#101828" stroke="#101828" stroke-width="0.3" text-anchor="middle">12</text>
<text x="464.1" y="423.7" font-size="16.2" fill="#101828" stroke="#101828" stroke-width="0.3" text-anchor="middle">14</text>
<text x="525.3" y="423.7" font-size="16.2" fill="#101828" stroke="#101828" stroke-width="0.3" text-anchor="middle">16</text>
<text x="586.4" y="423.7" font-size="16.2" fill="#101828" stroke="#101828" stroke-width="0.3" text-anchor="middle">18</text>
<text x="647.5" y="423.7" font-size="16.2" fill="#101828" stroke="#101828" stroke-width="0.3" text-anchor="middle">20</text>
<text x="37.5" y="17.6" font-size="14.5" fill="#101828" stroke="#101828" stroke-width="0.15" textLength="100" lengthAdjust="spacingAndGlyphs">x 0.001 cps/eV</text>
<text x="316" y="444.6" font-size="14" fill="#101828" stroke="#101828" stroke-width="0.3" textLength="85" lengthAdjust="spacingAndGlyphs">Energy [keV]</text>
</svg></body></html>
